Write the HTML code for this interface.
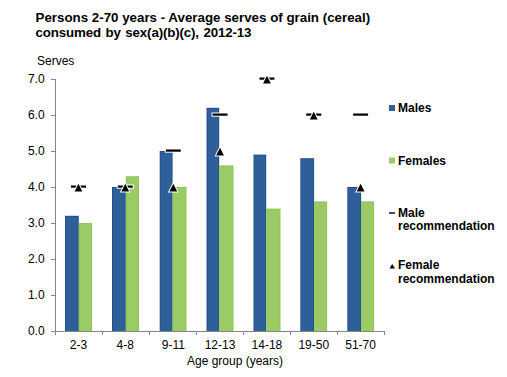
<!DOCTYPE html>
<html><head><meta charset="utf-8"><style>
html,body{margin:0;padding:0;background:#fff;}
svg{display:block;}
text{font-family:"Liberation Sans",sans-serif;fill:#000;}
.r{font-size:12px;}
.b{font-size:12px;font-weight:bold;}
.t{font-size:13.33px;font-weight:bold;}
</style></head><body>
<svg width="507" height="377" viewBox="0 0 507 377">
<rect x="65.00" y="215.80" width="13.80" height="115.20" fill="#24518C"/>
<rect x="66.00" y="216.80" width="11.80" height="114.20" fill="#2F5F98"/>
<rect x="78.80" y="223.00" width="13.20" height="108.00" fill="#8EC659"/>
<rect x="79.80" y="224.00" width="11.20" height="107.00" fill="#9BCB64"/>
<rect x="112.00" y="187.00" width="13.80" height="144.00" fill="#24518C"/>
<rect x="113.00" y="188.00" width="11.80" height="143.00" fill="#2F5F98"/>
<rect x="125.80" y="176.20" width="13.20" height="154.80" fill="#8EC659"/>
<rect x="126.80" y="177.20" width="11.20" height="153.80" fill="#9BCB64"/>
<rect x="159.70" y="151.00" width="12.90" height="180.00" fill="#24518C"/>
<rect x="160.70" y="152.00" width="10.90" height="179.00" fill="#2F5F98"/>
<rect x="172.60" y="187.00" width="13.90" height="144.00" fill="#8EC659"/>
<rect x="173.60" y="188.00" width="11.90" height="143.00" fill="#9BCB64"/>
<rect x="206.50" y="107.80" width="12.70" height="223.20" fill="#24518C"/>
<rect x="207.50" y="108.80" width="10.70" height="222.20" fill="#2F5F98"/>
<rect x="219.20" y="165.40" width="14.30" height="165.60" fill="#8EC659"/>
<rect x="220.20" y="166.40" width="12.30" height="164.60" fill="#9BCB64"/>
<rect x="253.50" y="154.60" width="12.70" height="176.40" fill="#24518C"/>
<rect x="254.50" y="155.60" width="10.70" height="175.40" fill="#2F5F98"/>
<rect x="266.20" y="208.60" width="14.30" height="122.40" fill="#8EC659"/>
<rect x="267.20" y="209.60" width="12.30" height="121.40" fill="#9BCB64"/>
<rect x="300.30" y="158.20" width="13.80" height="172.80" fill="#24518C"/>
<rect x="301.30" y="159.20" width="11.80" height="171.80" fill="#2F5F98"/>
<rect x="314.10" y="201.40" width="13.00" height="129.60" fill="#8EC659"/>
<rect x="315.10" y="202.40" width="11.00" height="128.60" fill="#9BCB64"/>
<rect x="347.30" y="187.00" width="13.80" height="144.00" fill="#24518C"/>
<rect x="348.30" y="188.00" width="11.80" height="143.00" fill="#2F5F98"/>
<rect x="361.10" y="201.40" width="13.00" height="129.60" fill="#8EC659"/>
<rect x="362.10" y="202.40" width="11.00" height="128.60" fill="#9BCB64"/>
<path d="M55.5 79 V331.5" stroke="#868686" stroke-width="1" fill="none"/>
<path d="M51 331.5 H55.5" stroke="#868686" stroke-width="1"/>
<path d="M51 295.5 H55.5" stroke="#868686" stroke-width="1"/>
<path d="M51 259.5 H55.5" stroke="#868686" stroke-width="1"/>
<path d="M51 223.5 H55.5" stroke="#868686" stroke-width="1"/>
<path d="M51 187.5 H55.5" stroke="#868686" stroke-width="1"/>
<path d="M51 151.5 H55.5" stroke="#868686" stroke-width="1"/>
<path d="M51 115.5 H55.5" stroke="#868686" stroke-width="1"/>
<path d="M51 79.5 H55.5" stroke="#868686" stroke-width="1"/>
<path d="M55 331.5 H384.5" stroke="#868686" stroke-width="1"/>
<path d="M55.5 331 V335" stroke="#868686" stroke-width="1"/>
<path d="M102.5 331 V335" stroke="#868686" stroke-width="1"/>
<path d="M149.5 331 V335" stroke="#868686" stroke-width="1"/>
<path d="M196.5 331 V335" stroke="#868686" stroke-width="1"/>
<path d="M243.5 331 V335" stroke="#868686" stroke-width="1"/>
<path d="M290.5 331 V335" stroke="#868686" stroke-width="1"/>
<path d="M337.5 331 V335" stroke="#868686" stroke-width="1"/>
<path d="M384.5 331 V335" stroke="#868686" stroke-width="1"/>
<rect x="70.95" y="185.50" width="15" height="2.2" fill="#000" stroke="#fff" stroke-width="2" paint-order="stroke"/>
<rect x="117.75" y="185.50" width="15" height="2.2" fill="#000" stroke="#fff" stroke-width="2" paint-order="stroke"/>
<rect x="165.80" y="149.50" width="15" height="2.2" fill="#000" stroke="#fff" stroke-width="2" paint-order="stroke"/>
<rect x="212.55" y="113.50" width="15" height="2.2" fill="#000" stroke="#fff" stroke-width="2" paint-order="stroke"/>
<rect x="259.45" y="77.50" width="15" height="2.2" fill="#000" stroke="#fff" stroke-width="2" paint-order="stroke"/>
<rect x="306.25" y="113.50" width="15" height="2.2" fill="#000" stroke="#fff" stroke-width="2" paint-order="stroke"/>
<rect x="353.10" y="113.50" width="15" height="2.2" fill="#000" stroke="#fff" stroke-width="2" paint-order="stroke"/>
<path d="M78.45 183.70 L82.35 191.60 L74.55 191.60 Z" fill="#000" stroke="#fff" stroke-width="2" paint-order="stroke"/>
<path d="M125.25 183.70 L129.15 191.60 L121.35 191.60 Z" fill="#000" stroke="#fff" stroke-width="2" paint-order="stroke"/>
<path d="M173.30 183.70 L177.20 191.60 L169.40 191.60 Z" fill="#000" stroke="#fff" stroke-width="2" paint-order="stroke"/>
<path d="M220.05 147.70 L223.95 155.60 L216.15 155.60 Z" fill="#000" stroke="#fff" stroke-width="2" paint-order="stroke"/>
<path d="M266.95 75.70 L270.85 83.60 L263.05 83.60 Z" fill="#000" stroke="#fff" stroke-width="2" paint-order="stroke"/>
<path d="M313.75 111.70 L317.65 119.60 L309.85 119.60 Z" fill="#000" stroke="#fff" stroke-width="2" paint-order="stroke"/>
<path d="M360.60 183.70 L364.50 191.60 L356.70 191.60 Z" fill="#000" stroke="#fff" stroke-width="2" paint-order="stroke"/>
<text x="44.6" y="335" text-anchor="end" class="r">0.0</text>
<text x="44.6" y="299" text-anchor="end" class="r">1.0</text>
<text x="44.6" y="263" text-anchor="end" class="r">2.0</text>
<text x="44.6" y="227" text-anchor="end" class="r">3.0</text>
<text x="44.6" y="191" text-anchor="end" class="r">4.0</text>
<text x="44.6" y="155" text-anchor="end" class="r">5.0</text>
<text x="44.6" y="119" text-anchor="end" class="r">6.0</text>
<text x="44.6" y="83" text-anchor="end" class="r">7.0</text>
<text x="78.45" y="349" text-anchor="middle" class="r">2-3</text>
<text x="125.25" y="349" text-anchor="middle" class="r">4-8</text>
<text x="173.30" y="349" text-anchor="middle" class="r">9-11</text>
<text x="220.05" y="349" text-anchor="middle" class="r">12-13</text>
<text x="266.95" y="349" text-anchor="middle" class="r">14-18</text>
<text x="313.75" y="349" text-anchor="middle" class="r">19-50</text>
<text x="360.60" y="349" text-anchor="middle" class="r">51-70</text>
<text x="235" y="365" text-anchor="middle" class="r">Age group (years)</text>
<text x="37" y="64.5" class="r">Serves</text>
<text x="35.5" y="22" class="t">Persons 2-70 years - Average serves of grain (cereal)</text>
<text x="35.5" y="37" class="t" style="letter-spacing:-0.15px;word-spacing:1px">consumed by sex(a)(b)(c), 2012-13</text>
<rect x="389" y="105" width="6" height="6" fill="#2F5F98"/>
<text x="398" y="112" class="b">Males</text>
<rect x="389" y="157.5" width="6" height="6" fill="#9BCB64"/>
<text x="398" y="164.5" class="b">Females</text>
<rect x="389" y="212.2" width="6" height="1.6" fill="#222"/>
<text x="398" y="216.5" class="b">Male</text>
<text x="398" y="230" class="b">recommendation</text>
<path d="M392.25 264 L395 268.5 L389.5 268.5 Z" fill="#000"/>
<text x="398" y="269" class="b">Female</text>
<text x="398" y="283" class="b">recommendation</text>
</svg>
</body></html>
